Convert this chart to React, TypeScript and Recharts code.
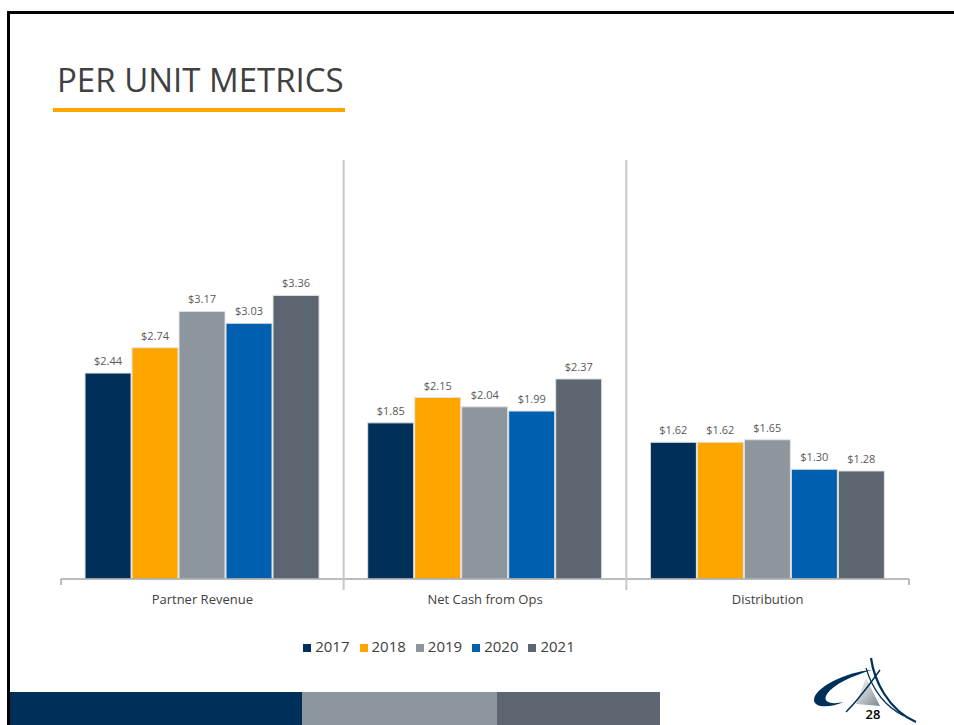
import { BarChart, Bar, XAxis, YAxis, Legend, LabelList } from 'recharts'

const categories = ['Partner Revenue', 'Net Cash from Ops', 'Distribution']
const years = ['2017', '2018', '2019', '2020', '2021']

const v2017 = [2.44, 1.85, 1.62]
const v2018 = [2.74, 2.15, 1.62]
const v2019 = [3.17, 2.04, 1.65]
const v2020 = [3.03, 1.99, 1.3]
const v2021 = [3.36, 2.37, 1.28]

const seriesValues = [v2017, v2018, v2019, v2020, v2021]
const colors = ['#00305A', '#FFA500', '#8E969D', '#0060AF', '#5B6670']

const data = categories.map((name, i) => {
  const row: Record<string, string | number> = { name }
  years.forEach((y, j) => {
    row[y] = seriesValues[j][i]
  })
  return row
})

const FONT = '"Open Sans", sans-serif'
const PLOT_H = 422
const TICK_GAP = 10

// category label plus the separator / boundary marks of each band
function CategoryTick(props: any) {
  const { x, y, payload, index, visibleTicksCount } = props
  const half = payload?.offset || 848 / 6
  const axisY = y - 6 - TICK_GAP
  const left = x - half
  const right = x + half
  const last = index === (visibleTicksCount ?? categories.length) - 1
  return (
    <g>
      {index === 0 ? (
        <line x1={left} x2={left} y1={axisY} y2={axisY + 6} stroke="#A6A6A6" strokeWidth={1.5} />
      ) : (
        <line x1={left} x2={left} y1={axisY - PLOT_H + 3} y2={axisY + 11} stroke="#C8C8C8" strokeWidth={2} />
      )}
      {last && <line x1={right} x2={right} y1={axisY} y2={axisY + 6} stroke="#A6A6A6" strokeWidth={1.5} />}
      <text x={x} y={y} dy="0.71em" textAnchor="middle" fontSize={13} fill="#404040" fontFamily={FONT}>
        {payload.value}
      </text>
    </g>
  )
}

function Logo() {
  return (
    <svg width={130} height={75} style={{ position: 'absolute', left: 800, top: 650 }}>
      <defs>
        <linearGradient id="logoGray" x1="0" y1="0" x2="1" y2="1">
          <stop offset="0%" stopColor="#ffffff" />
          <stop offset="100%" stopColor="#7d8791" />
        </linearGradient>
      </defs>
      <path d="M66 28 L56 54 L80 56 Z" fill="url(#logoGray)" />
      <path
        d="M72 20 C45 22 14 38 14 50 C14 58 30 58 44 52 C30 55 22 52 27 44 C34 34 52 26 72 20 Z"
        fill="#00305A"
      />
      <path d="M71 8 C74 30 88 60 116 72" stroke="#00305A" strokeWidth={2.2} fill="none" />
      <path d="M66 18 C72 38 84 56 104 66" stroke="#00305A" strokeWidth={1.2} fill="none" />
      <path d="M80 20 C70 34 58 50 46 62" stroke="#00305A" strokeWidth={1.4} fill="none" />
      <text x={73} y={69} fontFamily={FONT} fontSize={13} fontWeight={600} fill="#000" textAnchor="middle">
        28
      </text>
    </svg>
  )
}

export default function App() {
  return (
    <div
      style={{
        position: 'fixed',
        left: 0,
        top: 0,
        width: 954,
        height: 725,
        background: '#fff',
        overflow: 'hidden',
        fontFamily: FONT,
      }}
    >
      {/* slide frame */}
      <div
        style={{
          position: 'absolute',
          left: 7,
          top: 11,
          width: 960,
          height: 730,
          borderTop: '3px solid #000',
          borderLeft: '3px solid #000',
        }}
      />

      <div
        style={{
          position: 'absolute',
          left: 57,
          top: 57,
          fontSize: 33,
          color: '#404040',
          fontWeight: 400,
          whiteSpace: 'nowrap',
        }}
      >
        PER UNIT METRICS
      </div>
      <div style={{ position: 'absolute', left: 53, top: 108, width: 292, height: 4, background: '#FFA500' }} />

      <div style={{ position: 'absolute', left: 0, top: 0 }}>
        <BarChart
          width={954}
          height={700}
          data={data}
          margin={{ top: 157, right: 45, left: 61, bottom: 43 }}
          barCategoryGap="8.5%"
          barGap={1}
        >
          <YAxis hide domain={[0, 5]} allowDataOverflow />
          <XAxis
            dataKey="name"
            height={56}
            tickLine={false}
            axisLine={{ stroke: '#A6A6A6', strokeWidth: 1.5 }}
            tick={<CategoryTick />}
            tickMargin={TICK_GAP}
            interval={0}
          />

          <Legend
            verticalAlign="bottom"
            iconType="square"
            iconSize={8}
            wrapperStyle={{ left: 0, width: 888 }}
            formatter={(value: string) => (
              <span style={{ color: '#404040', fontSize: 15, fontFamily: FONT }}>{value}</span>
            )}
          />

          {years.map((y, j) => (
            <Bar
              key={y}
              dataKey={y}
              fill={colors[j]}
              stroke="#E2E2E2"
              strokeWidth={1}
              isAnimationActive={false}
            >
              <LabelList
                dataKey={y}
                position="top"
                offset={8}
                formatter={(v: number) => `$${Number(v).toFixed(2)}`}
                style={{ fontSize: 11, fill: '#595959', fontFamily: FONT }}
              />
            </Bar>
          ))}
        </BarChart>
      </div>

      {/* footer bands */}
      <div style={{ position: 'absolute', left: 10, top: 692, width: 292, height: 33, background: '#00305A' }} />
      <div style={{ position: 'absolute', left: 302, top: 692, width: 195, height: 33, background: '#8E969D' }} />
      <div style={{ position: 'absolute', left: 497, top: 692, width: 163, height: 33, background: '#5B6670' }} />

      <Logo />
    </div>
  )
}
